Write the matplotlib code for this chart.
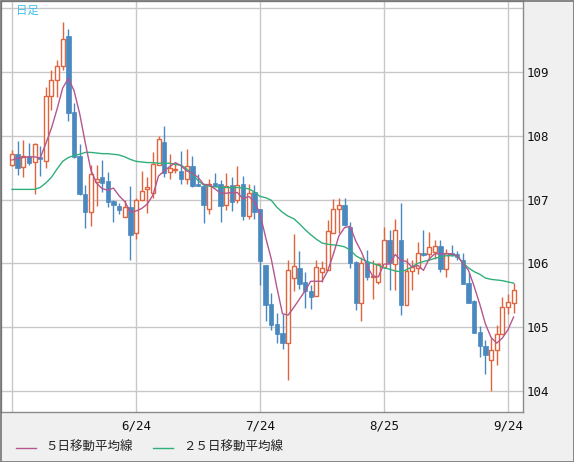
import matplotlib
matplotlib.use('Agg')
import matplotlib.pyplot as plt
from matplotlib.lines import Line2D
from matplotlib.patches import Rectangle
import numpy as np

# Daily candles (USD/JPY), 2020-05-25 .. 2020-09-25
opens = [107.54, 107.71, 107.51, 107.69, 107.59, 107.67, 107.61, 108.62, 108.88, 109.10,
         109.56, 108.37, 107.69, 107.09, 106.80, 107.28, 107.35, 107.29, 106.98, 106.90,
         106.72, 106.88, 106.47, 107.00, 107.16, 107.11, 107.55, 107.90, 107.44, 107.47,
         107.45, 107.33, 107.53, 107.24, 107.21, 106.85, 107.26, 107.24, 106.91, 107.23,
         107.00, 107.24, 106.75, 107.12, 106.85, 105.97, 105.36, 105.05, 104.91, 104.76,
         105.77, 105.93, 105.71, 105.57, 105.49, 105.86, 105.90, 106.48, 106.85, 106.91,
         106.57, 106.02, 105.38, 106.02, 105.79, 105.71, 105.94, 106.37, 105.99, 106.37,
         105.35, 105.88, 105.93, 106.17, 106.15, 106.18, 106.27, 105.91, 106.17, 106.15,
         106.05, 105.69, 105.41, 104.92, 104.71, 104.48, 104.65, 104.89, 105.31, 105.38]
highs = [107.78, 107.92, 107.93, 107.88, 107.88, 107.84, 108.76, 109.03, 109.19, 109.78,
         109.67, 108.52, 107.87, 107.23, 107.54, 107.54, 107.62, 107.43, 106.99, 106.94,
         107.00, 107.21, 107.02, 107.45, 107.35, 107.74, 107.99, 108.16, 107.71, 107.58,
         107.76, 107.79, 107.69, 107.40, 107.25, 107.32, 107.42, 107.31, 107.41, 107.35,
         107.53, 107.37, 107.24, 107.23, 106.86, 105.98, 105.53, 105.22, 105.21, 106.05,
         106.46, 106.19, 105.87, 105.66, 106.05, 106.03, 106.68, 107.01, 107.03, 107.03,
         106.65, 106.03, 106.10, 106.21, 106.05, 106.00, 106.57, 106.53, 106.69, 106.94,
         106.09, 106.05, 106.33, 106.53, 106.49, 106.37, 106.36, 106.22, 106.29, 106.20,
         106.16, 105.85, 105.43, 105.02, 104.80, 104.83, 105.03, 105.48, 105.52, 105.69]
lows = [107.53, 107.39, 107.36, 107.54, 107.09, 107.37, 107.50, 108.40, 108.61, 109.03,
        108.23, 107.65, 107.07, 106.56, 106.59, 106.90, 107.12, 106.89, 106.65, 106.77,
        106.72, 106.06, 106.38, 107.00, 106.79, 107.03, 107.55, 107.35, 107.33, 107.41,
        107.25, 107.24, 107.19, 107.22, 106.64, 106.77, 107.21, 106.65, 106.83, 106.82,
        106.95, 106.68, 106.70, 106.70, 105.66, 105.10, 104.95, 104.75, 104.66, 104.17,
        105.56, 105.60, 105.30, 105.29, 105.49, 105.71, 105.90, 106.48, 106.47, 106.59,
        105.93, 105.27, 105.09, 105.74, 105.44, 105.68, 105.94, 105.59, 105.59, 105.19,
        105.35, 105.58, 105.84, 106.12, 106.05, 106.07, 105.86, 105.79, 106.12, 106.05,
        105.68, 105.38, 104.91, 104.54, 104.26, 104.00, 104.40, 104.89, 105.21, 105.23]
closes = [107.71, 107.50, 107.69, 107.58, 107.87, 107.63, 108.62, 108.88, 109.10, 109.52,
          108.36, 107.67, 107.08, 106.80, 107.40, 107.33, 107.26, 106.97, 106.92, 106.83,
          106.88, 106.45, 107.00, 107.14, 107.19, 107.56, 107.95, 107.42, 107.49, 107.48,
          107.33, 107.52, 107.22, 107.22, 106.92, 107.25, 107.22, 106.90, 107.22, 106.97,
          107.23, 106.74, 107.10, 106.81, 106.04, 105.35, 105.03, 104.89, 104.76, 105.90,
          105.96, 105.68, 105.56, 105.48, 105.94, 105.93, 106.51, 106.85, 106.91, 106.60,
          106.01, 105.38, 106.01, 105.78, 105.80, 105.99, 106.37, 106.01, 106.52, 105.35,
          105.88, 105.94, 106.16, 106.13, 106.25, 106.27, 105.92, 106.17, 106.13, 106.10,
          105.68, 105.38, 104.91, 104.71, 104.57, 104.65, 104.89, 105.31, 105.39, 105.58]
ma5 = [107.62, 107.65, 107.66, 107.67, 107.67, 107.65, 107.88, 108.12, 108.42, 108.75,
       108.90, 108.71, 108.35, 107.89, 107.46, 107.26, 107.17, 107.15, 107.18, 107.06,
       106.97, 106.81, 106.82, 106.86, 106.93, 107.07, 107.37, 107.45, 107.52, 107.58,
       107.53, 107.45, 107.41, 107.35, 107.24, 107.23, 107.17, 107.10, 107.10, 107.11,
       107.11, 107.01, 107.05, 106.97, 106.78, 106.41, 106.07, 105.62, 105.21, 105.19,
       105.31, 105.44, 105.57, 105.72, 105.72, 105.72, 105.88, 106.14, 106.43, 106.56,
       106.58, 106.35, 106.18, 105.96, 105.80, 105.79, 105.99, 105.99, 106.14, 106.05,
       106.03, 105.94, 105.97, 105.89, 106.07, 106.15, 106.15, 106.15, 106.15, 106.12,
       106.00, 105.89, 105.64, 105.36, 105.05, 104.84, 104.75, 104.83, 104.96, 105.16]
ma25 = [107.16, 107.16, 107.16, 107.16, 107.16, 107.19, 107.26, 107.35, 107.48, 107.60,
        107.66, 107.69, 107.71, 107.74, 107.74, 107.73, 107.72, 107.72, 107.71, 107.70,
        107.67, 107.63, 107.60, 107.59, 107.58, 107.58, 107.57, 107.57, 107.57, 107.55,
        107.54, 107.48, 107.40, 107.30, 107.23, 107.21, 107.20, 107.19, 107.19, 107.19,
        107.19, 107.18, 107.17, 107.12, 107.05, 107.03, 106.99, 106.88, 106.80, 106.74,
        106.70, 106.62, 106.53, 106.45, 106.38, 106.32, 106.30, 106.29, 106.28, 106.26,
        106.21, 106.12, 106.07, 106.03, 106.00, 105.97, 105.93, 105.91, 105.88, 105.87,
        105.90, 105.95, 106.00, 106.03, 106.05, 106.08, 106.10, 106.12, 106.12, 106.12,
        106.01, 105.93, 105.87, 105.83, 105.77, 105.75, 105.74, 105.73, 105.71, 105.69]

date_tick_pos = [0, 22, 44, 66, 88]
date_tick_labels = ['', '6/24', '7/24', '8/25', '9/24']
price_ticks = [104, 105, 106, 107, 108, 109, 110]
price_tick_labels = ['104', '105', '106', '107', '108', '109', '']
legend_labels = ['５日移動平均線', '２５日移動平均線']

UP = '#e0643c'
DOWN = '#4a88c0'
MA5C = '#b5578e'
MA25C = '#2fb07a'
CJK = ['Noto Sans CJK JP', 'DejaVu Sans']
TICKFONT = 'DejaVu Sans Mono'

W, H = 574, 462
fig = plt.figure(figsize=(W / 100, H / 100), dpi=100, facecolor='#f0f0f0')
ax = fig.add_axes([1 / W, (H - 412) / H, 522 / W, 411 / H])
ax.set_facecolor('white')

o = np.array(opens); h = np.array(highs); l = np.array(lows); c = np.array(closes)
x = np.arange(len(c))
up = c >= o
top = np.maximum(o, c)
bot = np.minimum(o, c)
bw = 0.70

# wicks
ax.vlines(x[up], top[up], h[up], color=UP, lw=1, zorder=3)
ax.vlines(x[up], l[up], bot[up], color=UP, lw=1, zorder=3)
ax.vlines(x[~up], l[~up], h[~up], color=DOWN, lw=1, zorder=3)
# bodies
ax.bar(x[up], np.maximum(top[up] - bot[up], 0.012), bottom=bot[up], width=bw,
       facecolor='white', edgecolor=UP, linewidth=1, zorder=4)
ax.bar(x[~up], np.maximum(top[~up] - bot[~up], 0.02), bottom=bot[~up], width=bw + 0.08,
       facecolor=DOWN, edgecolor=DOWN, linewidth=0.5, zorder=4)

ax.plot(x, ma25, color=MA25C, lw=1, zorder=5)
ax.plot(x, ma5, color=MA5C, lw=1, zorder=5)

ax.set_xlim((1 - 12) / 5.636, (523 - 12) / 5.636)
ax.set_ylim(104 - (412 - 391) / 63.8, 104 + (391 - 1) / 63.8)

ax.set_xticks(date_tick_pos)
ax.set_xticklabels(date_tick_labels, family=TICKFONT)
ax.set_yticks(price_ticks)
ax.set_yticklabels(price_tick_labels, family=TICKFONT)
ax.yaxis.tick_right()
ax.grid(True, color='#c8c8c8', lw=1, zorder=0)
ax.set_axisbelow(True)
ax.tick_params(axis='y', length=0, pad=2.5, labelsize=9, labelcolor='#111111')
ax.tick_params(axis='x', length=0, pad=5.5, labelsize=9, labelcolor='#111111')
for s in ax.spines.values():
    s.set_color('#8a8a8a')
    s.set_linewidth(1)

# period label
fig.text(16.5 / W, 1 - 10.5 / H, '日足', color='#3ec0f0', fontsize=8.2,
         va='center', ha='left', family=CJK)

# legend
ly = 1 - 447.5 / H
fig.add_artist(Line2D([16 / W, 36 / W], [ly, ly], color=MA5C, lw=1))
fig.text(45 / W, ly, legend_labels[0], fontsize=9, va='center', ha='left',
         color='#222222', family=CJK)
fig.add_artist(Line2D([153 / W, 173 / W], [ly, ly], color=MA25C, lw=1))
fig.text(183 / W, ly, legend_labels[1], fontsize=9, va='center', ha='left',
         color='#222222', family=CJK)

# outer frame
fig.add_artist(Rectangle((0.5 / W, 0.5 / H), 1 - 1 / W, 1 - 1 / H, transform=fig.transFigure,
                         fill=False, edgecolor='#747474', lw=1.2))

fig.savefig('out.png', dpi=100, facecolor=fig.get_facecolor())
